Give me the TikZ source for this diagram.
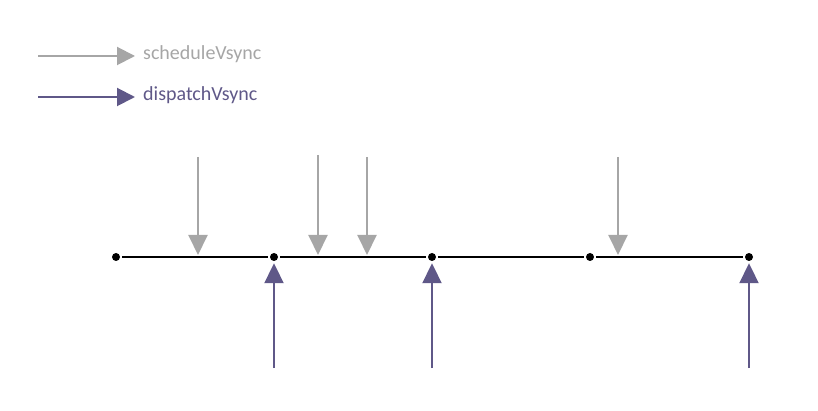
\documentclass[tikz,border=0pt]{standalone}
\usepackage{fontspec}
\setmainfont{Carlito}
\usetikzlibrary{arrows.meta}
\definecolor{sgrey}{HTML}{A6A6A6}
\definecolor{dpurple}{HTML}{5F5888}
\begin{document}
\begin{tikzpicture}[x=1pt,y=-1pt,
  dot/.style={circle,fill=black,inner sep=0pt,minimum size=8pt},
  sched/.style={draw=sgrey,line width=2pt,-{Triangle[length=20pt,width=19pt]},color=sgrey},
  disp/.style={draw=dpurple,line width=2pt,-{Triangle[length=20pt,width=19pt]},color=dpurple},
  legtext/.style={anchor=base west,font=\fontsize{20}{24}\selectfont,inner sep=0pt},
  seg/.style={line width=2pt,black,shorten <=2pt,shorten >=2pt}]
\useasboundingbox (0,0) rectangle (818,411);
% legend
\coordinate (ls1) at (38,56);
\coordinate (le1) at (135,56);
\coordinate (ls2) at (38,97);
\coordinate (le2) at (135,97);
\draw[sched,-{Triangle[length=18pt,width=18pt]}] (ls1) -- (le1);
\draw[disp,-{Triangle[length=18pt,width=18pt]}] (ls2) -- (le2);
\node[legtext,text=sgrey] (lt1) at (143,60) {scheduleVsync};
\node[legtext,text=dpurple] (lt2) at (143,101) {dispatchVsync};
% timeline
\node[dot] (d1) at (116,257) {};
\node[dot] (d2) at (274,257) {};
\node[dot] (d3) at (432,257) {};
\node[dot] (d4) at (590,257) {};
\node[dot] (d5) at (749,257) {};
\draw[seg] (d1) -- (d2);
\draw[seg] (d2) -- (d3);
\draw[seg] (d3) -- (d4);
\draw[seg] (d4) -- (d5);
% schedule arrows
\coordinate (s1a) at (198,157); \coordinate (s1b) at (198,255);
\coordinate (s2a) at (318,155); \coordinate (s2b) at (318,255);
\coordinate (s3a) at (367,157); \coordinate (s3b) at (367,255);
\coordinate (s4a) at (618,157); \coordinate (s4b) at (618,255);
\draw[sched] (s1a) -- (s1b);
\draw[sched] (s2a) -- (s2b);
\draw[sched] (s3a) -- (s3b);
\draw[sched] (s4a) -- (s4b);
% dispatch arrows
\coordinate (p1) at (274,368);
\coordinate (p2) at (432,368);
\coordinate (p3) at (749,368);
\draw[disp,shorten >=2pt] (p1) -- (d2);
\draw[disp,shorten >=2pt] (p2) -- (d3);
\draw[disp,shorten >=2pt] (p3) -- (d5);
\end{tikzpicture}
\end{document}
